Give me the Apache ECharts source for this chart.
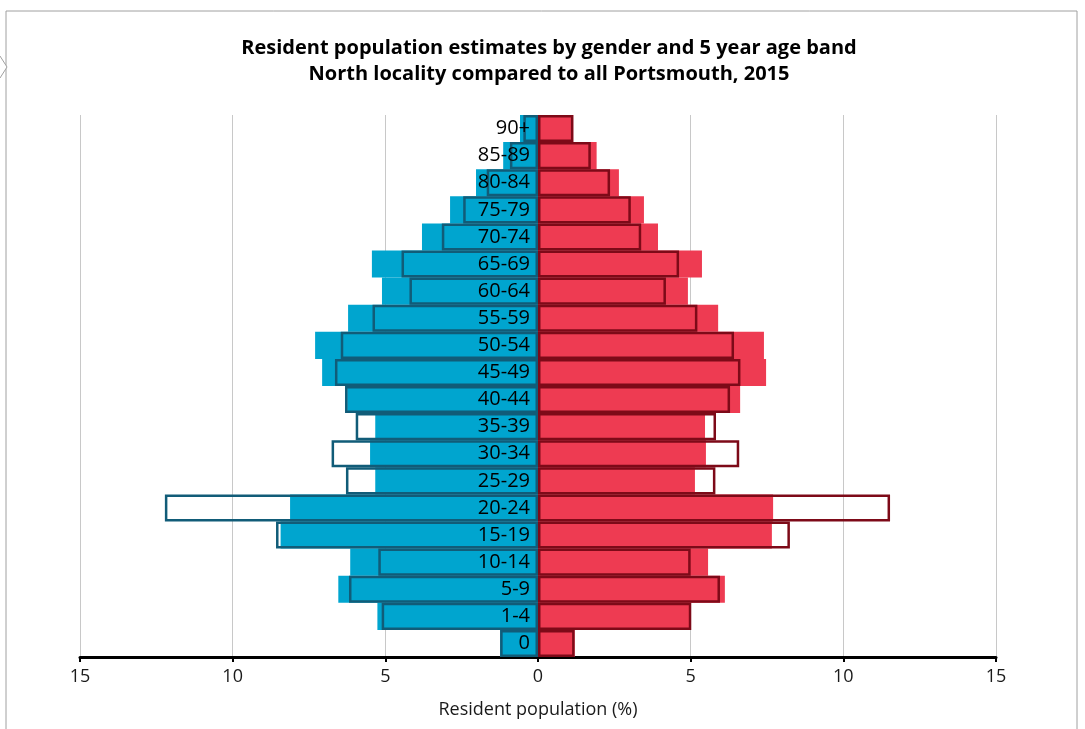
<!DOCTYPE html>
<html>
<head>
<meta charset="utf-8">
<script src="https://cdn.jsdelivr.net/npm/echarts@6/dist/echarts.min.js"></script>
<style>html,body{margin:0;padding:0;background:#fff}#c{width:1085px;height:729px}</style>
</head>
<body>
<div id="c"></div>
<script>
const categories = ['0','1-4','5-9','10-14','15-19','20-24','25-29','30-34','35-39','40-44','45-49','50-54','55-59','60-64','65-69','70-74','75-79','80-84','85-89','90+'];
// North locality (filled bars), % of population
const northMale   = [1.24,5.26,6.54,6.15,8.43,8.12,5.33,5.50,5.33,6.25,7.07,7.30,6.22,5.11,5.44,3.80,2.88,2.03,1.14,0.59];
const northFemale = [1.20,5.00,6.12,5.57,7.66,7.70,5.14,5.50,5.47,6.62,7.47,7.40,5.90,4.91,5.37,3.93,3.47,2.65,1.92,1.15];
// All Portsmouth (outline bars), % of population
const portsMale   = [1.24,5.12,6.19,5.23,8.58,12.22,6.29,6.76,5.97,6.32,6.65,6.46,5.42,4.21,4.47,3.15,2.45,1.68,0.92,0.48];
const portsFemale = [1.20,5.02,5.96,5.00,8.25,11.53,5.81,6.59,5.83,6.29,6.63,6.42,5.22,4.19,4.62,3.38,3.04,2.36,1.73,1.16];
const xTicks = { min: -15, max: 15, interval: 5 };

const neg = a => a.map(v => -v);
const chart = echarts.init(document.getElementById('c'));
const font = '"Open Sans", "Noto Sans", sans-serif';
chart.setOption({
  animation: false,
  textStyle: { fontFamily: font },
  title: {
    text: 'Resident population estimates by gender and 5 year age band\nNorth locality compared to all Portsmouth, 2015',
    left: 544, top: 30, textAlign: 'center',
    textStyle: { fontSize: 20, fontWeight: 'bold', color: '#000', lineHeight: 26, fontFamily: font }
  },
  graphic: [
    { type: 'polyline', shape: { points: [[6,729],[6,11],[1077,11],[1077,729]] }, style: { stroke: '#a0a0a0', lineWidth: 1, fill: null } },
    { type: 'polyline', shape: { points: [[0,56],[7,67],[0,78]] }, style: { stroke: '#a0a0a0', lineWidth: 1, fill: '#fff' } }
  ],
  grid: { left: 80, right: 89, top: 115, bottom: 72 },
  xAxis: {
    type: 'value', min: xTicks.min, max: xTicks.max, interval: xTicks.interval,
    name: 'Resident population (%)', nameLocation: 'middle', nameGap: 44,
    nameTextStyle: { fontSize: 18, color: '#1a1a1a' },
    axisLine: { show: true, lineStyle: { color: '#000', width: 3 } },
    axisTick: { show: true, length: 5, lineStyle: { color: '#000', width: 2 } },
    axisLabel: { fontSize: 18, color: '#1a1a1a', margin: 11, formatter: v => Math.abs(v) },
    splitLine: { show: true, lineStyle: { color: '#c8c8c8', width: 1 } }
  },
  yAxis: {
    type: 'category', data: categories, offset: -458, z: 10,
    axisLine: { show: false }, axisTick: { show: false },
    axisLabel: { fontSize: 20, color: '#000', margin: 8, interval: 0, hideOverlap: false, lineHeight: 22, padding: [4, 0, 0, 0] }
  },
  series: [
    { type: 'bar', data: neg(northMale), barWidth: '100%', barGap: '-100%', itemStyle: { color: '#00a5cf' } },
    { type: 'bar', data: northFemale, barWidth: '100%', barGap: '-100%', itemStyle: { color: '#ee3b52' } },
    { type: 'bar', data: neg(portsMale), barWidth: '100%', barGap: '-100%', itemStyle: { color: 'rgba(0,0,0,0)', borderColor: '#115c78', borderWidth: 2.5 } },
    { type: 'bar', data: portsFemale, barWidth: '100%', barGap: '-100%', itemStyle: { color: 'rgba(0,0,0,0)', borderColor: '#7d0a18', borderWidth: 2.5 } }
  ]
});
</script>
</body>
</html>
